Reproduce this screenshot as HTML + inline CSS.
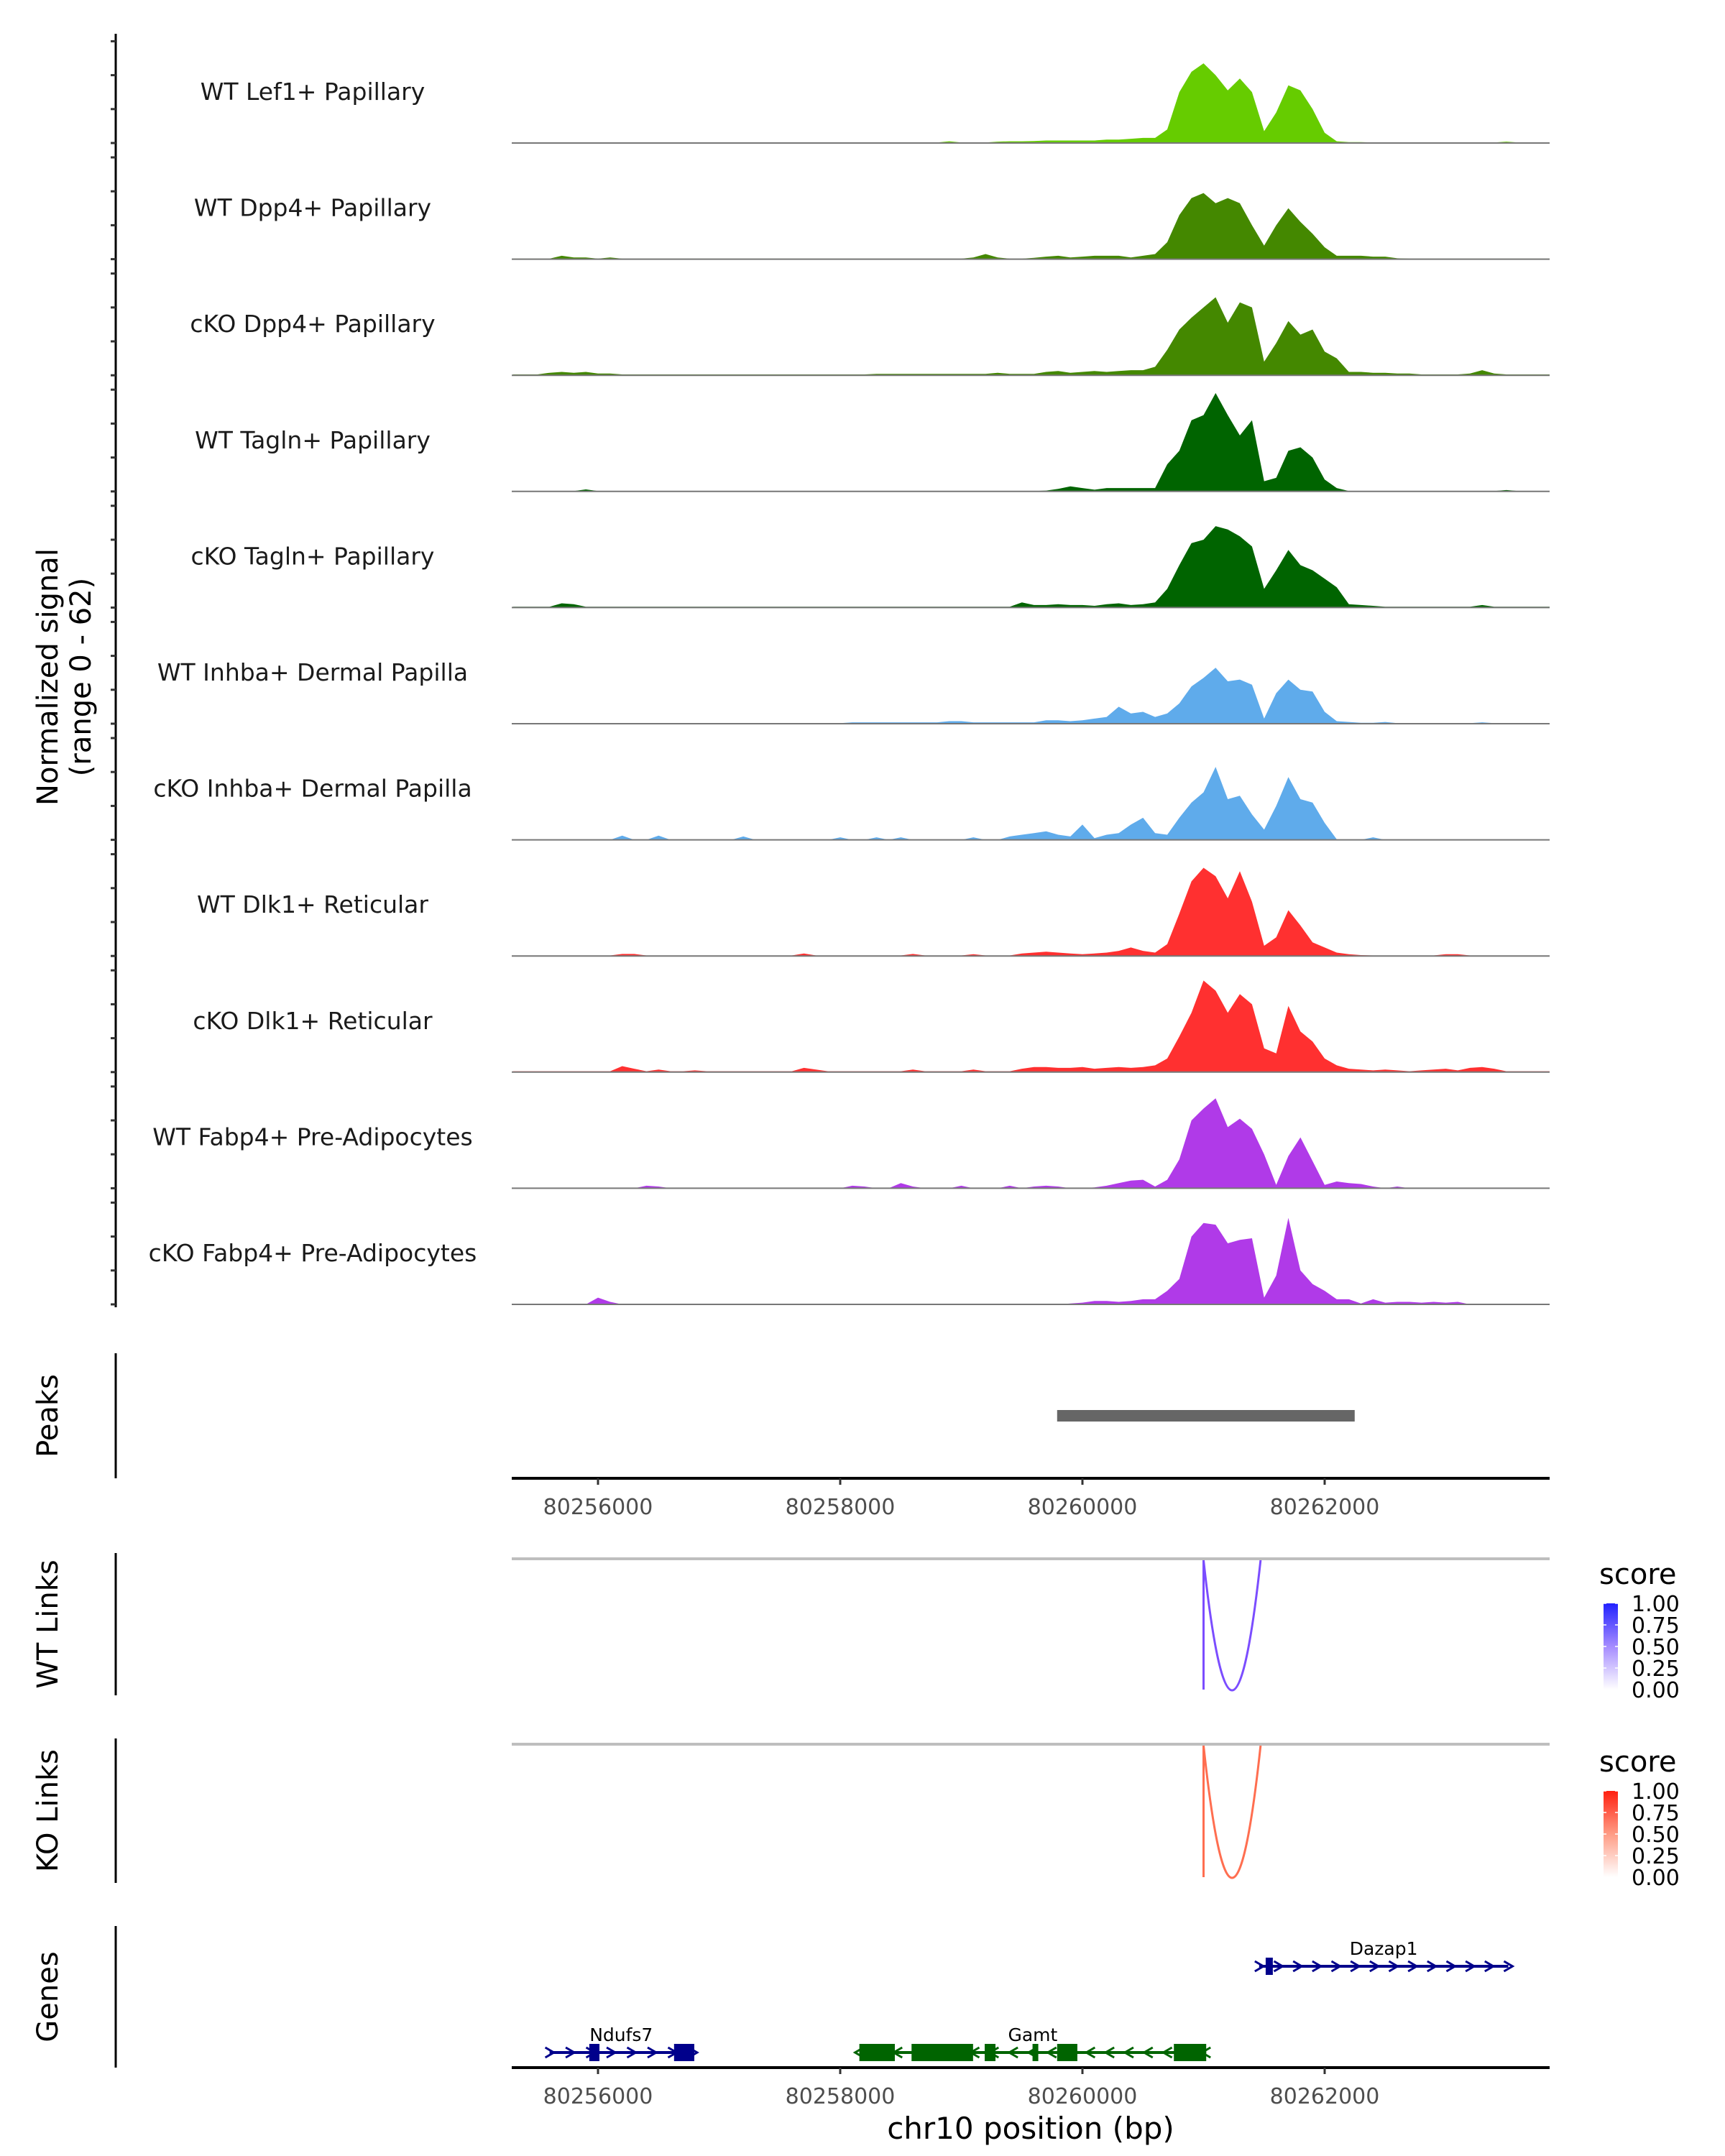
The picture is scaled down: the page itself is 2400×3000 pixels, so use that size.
<!DOCTYPE html>
<html><head><meta charset="utf-8"><style>
html,body{margin:0;padding:0;background:#fff;}
svg{display:block;font-family:"DejaVu Sans","Liberation Sans",sans-serif;}
</style></head><body>
<svg id="chart" width="2400" height="3000" viewBox="0 0 2400 3000" xmlns="http://www.w3.org/2000/svg">
<rect width="2400" height="3000" fill="#fff"/>
<g id="tracks"></g>
<text transform="translate(80,942) rotate(-90)" text-anchor="middle" font-size="40" fill="#000">Normalized signal</text>
<text transform="translate(126,942) rotate(-90)" text-anchor="middle" font-size="40" fill="#000">(range 0 - 62)</text>
<g id="lower"></g>
</svg>
<script>
const bins = [80255300,80255400,80255500,80255600,80255700,80255800,80255900,80256000,80256100,80256200,80256300,80256400,80256500,80256600,80256700,80256800,80256900,80257000,80257100,80257200,80257300,80257400,80257500,80257600,80257700,80257800,80257900,80258000,80258100,80258200,80258300,80258400,80258500,80258600,80258700,80258800,80258900,80259000,80259100,80259200,80259300,80259400,80259500,80259600,80259700,80259800,80259900,80260000,80260100,80260200,80260300,80260400,80260500,80260600,80260700,80260800,80260900,80261000,80261100,80261200,80261300,80261400,80261500,80261600,80261700,80261800,80261900,80262000,80262100,80262200,80262300,80262400,80262500,80262600,80262700,80262800,80262900,80263000,80263100,80263200,80263300,80263400,80263500,80263600,80263700,80263800,80263900];
const trackNames = ["WT Lef1+ Papillary","WT Dpp4+ Papillary","cKO Dpp4+ Papillary","WT Tagln+ Papillary","cKO Tagln+ Papillary","WT Inhba+ Dermal Papilla","cKO Inhba+ Dermal Papilla","WT Dlk1+ Reticular","cKO Dlk1+ Reticular","WT Fabp4+ Pre-Adipocytes","cKO Fabp4+ Pre-Adipocytes"];
const trackColors = ["#66cc00","#448800","#448800","#006400","#006400","#5fabeb","#5fabeb","#ff3030","#ff3030","#b03ae8","#b03ae8"];
const wtLef1 = [0.3,0.3,0.3,0.3,0.3,0.3,0.3,0.3,0.3,0.3, 0.3,0.3,0.3,0.3,0.3,0.3,0.3,0.3,0.3,0.3, 0.3,0.3,0.3,0.3,0.3,0.3,0.3,0.3,0.3,0.3, 0.3,0.3,0.3,0.3,0.3,0.3,1,0.3,0.3,0.3, 0.8,1,1,1.2,1.5,1.5,1.5, 1.5,1.5,2,2,2.5,3,3,8,30,42, 47,40,31,38,30,7,18,34,31,20, 6,1,0.5,0.5,0.3,0.3,0.3,0.3,0.3,0.3, 0.3,0.3,0.3,0.3,0.3,0.8,0.3,0.3,0.3,0.3];
const wtDpp4 = [0.3,0.3,0.3,0.3,2,1,1,0.3,1,0.3, 0.3,0.3,0.3,0.3,0.3,0.3,0.3,0.3,0.3,0.3, 0.3,0.3,0.3,0.3,0.3,0.3,0.3,0.3,0.3,0.3, 0.3,0.3,0.3,0.3,0.3,0.3,0.3,0.3,1,3, 1,0.3,0.3,0.8,1.5,2,1, 1.5,2,2,2,1,2,3,10,26,36, 39,33,36,33,20,8,20,30,22,15, 7,2,2,2,1.5,1.5,0.5,0.3,0.3,0.3, 0.3,0.3,0.3,0.3,0.3,0.3,0.3,0.3,0.3,0.3];
const koDpp4 = [0.5,0.5,0.5,1.5,2,1.5,2,1,1,0.5, 0.5,0.5,0.5,0.5,0.5,0.5,0.5,0.5,0.5,0.5, 0.5,0.5,0.5,0.5,0.5,0.5,0.5,0.5,0.5,0.5, 0.8,0.8,0.8,0.8,0.8,0.8,0.8,0.8,0.8,0.8, 1.5,0.8,0.8,0.8,2,2.5,1.5, 2,2.5,2,2.5,3,3,5,15,27,34, 40,46,31,43,40,8,19,32,24,27, 14,10,2,2,1.5,1.5,1,1,0.5,0.5, 0.5,0.5,1,3,1,0.5,0.5,0.5,0.5,0.5];
const wtTagln = [0.2,0.2,0.2,0.2,0.2,0.2,1.2,0.2,0.2,0.2, 0.2,0.2,0.2,0.2,0.2,0.2,0.2,0.2,0.2,0.2, 0.2,0.2,0.2,0.2,0.2,0.2,0.2,0.2,0.2,0.2, 0.2,0.2,0.2,0.2,0.2,0.2,0.2,0.2,0.2,0.2, 0.2,0.2,0.2,0.2,0.5,1.5,3, 2,1,2,2,2,2,2,16,24,42, 45,58,45,33,42,6,8,24,26,20, 7,2,0.2,0.2,0.2,0.2,0.2,0.2,0.2,0.2, 0.2,0.2,0.2,0.2,0.2,0.8,0.2,0.2,0.2,0.2];
const koTagln = [0.5,0.5,0.5,0.5,2.5,2,0.5,0.5,0.5,0.5, 0.5,0.5,0.5,0.5,0.5,0.5,0.5,0.5,0.5,0.5, 0.5,0.5,0.5,0.5,0.5,0.5,0.5,0.5,0.5,0.5, 0.5,0.5,0.5,0.5,0.5,0.5,0.5,0.5,0.5,0.5, 0.5,0.5,3,1.5,1.5,2,1.5, 1.5,1,2,2.5,1.5,2,3,11,25,38, 40,48,46,42,36,11,22,34,25,22, 17,12,2,1.5,1,0.5,0.5,0.5,0.5,0.5, 0.5,0.5,0.5,1.5,0.5,0.5,0.5,0.5,0.5,0.5];
const wtInhba = [0.3,0.3,0.3,0.3,0.3,0.3,0.3,0.3,0.3,0.3, 0.3,0.3,0.3,0.3,0.3,0.3,0.3,0.3,0.3,0.3, 0.3,0.3,0.3,0.3,0.3,0.3,0.3,0.3,0.8,0.8, 0.8,0.8,0.8,0.8,0.8,0.8,1.5,1.5,0.8,0.8, 0.8,0.8,0.8,0.8,2,2,1.5, 2,3,4,10,6,7,4,6,12,22, 27,33,25,26,23,3,18,26,20,19, 7,1.5,1,0.5,0.5,1,0.3,0.3,0.3,0.3, 0.3,0.3,0.3,0.8,0.3,0.3,0.3,0.3,0.3,0.3];
const koInhba = [0,0,0,0,0,0,0,0,0,2.5, 0,0,2.5,0,0,0,0,0,0,2, 0,0,0,0,0,0,0,1.5,0,0, 1.5,0,1.5,0,0,0,0,0,1.5,0, 0,2,3,4,5,3,2, 9,1,3,4,9,13,4,3,13,22, 28,43,24,26,15,6,20,37,24,22, 10,0.3,0,0,1.5,0,0,0,0,0, 0,0,0,0,0,0,0,0,0,0];
const wtDlk1 = [0.3,0.3,0.3,0.3,0.3,0.3,0.3,0.3,0.3,1.2, 1.2,0.3,0.3,0.3,0.3,0.3,0.3,0.3,0.3,0.3, 0.3,0.3,0.3,0.3,1.5,0.3,0.3,0.3,0.3,0.3, 0.3,0.3,0.3,1.2,0.3,0.3,0.3,0.3,1,0.3, 0.3,0.3,1.5,2,2.5,2,1.5, 1,1.5,2,3,5,3,2,7,25,44, 52,47,34,50,32,6,11,27,18,8, 5,2,1,0.5,0.3,0.3,0.3,0.3,0.3,0.3, 1,1,0.3,0.3,0.3,0.3,0.3,0.3,0.3,0.3];
const koDlk1 = [0.5,0.5,0.5,0.5,0.5,0.5,0.5,0.5,0.5,3.5, 2,0.5,1.5,0.5,0.5,1,0.5,0.5,0.5,0.5, 0.5,0.5,0.5,0.5,2.5,1.5,0.5,0.5,0.5,0.5, 0.5,0.5,0.5,1.5,0.5,0.5,0.5,0.5,1.5,0.5, 0.5,0.5,2,3,3,2.5,2.5, 3,2,2.5,3,2.5,3,4,8,21,35, 54,48,35,46,40,14,11,39,24,18, 8,4,2,1.5,1,1.5,1,0.5,1,1.5, 2,1,2.5,3,2,0.5,0.5,0.5,0.5,0.5];
const wtFabp4 = [0,0,0,0,0,0,0,0,0,0, 0,1.5,1,0,0,0,0,0,0,0, 0,0,0,0,0,0,0,0,1.5,1, 0,0,3,1,0,0,0,1.5,0,0, 0,1.5,0,1,1.5,1,0, 0,0.5,1.5,3,4.5,5,1,5,17,40, 47,53,36,41,35,20,2,19,30,16, 2,4,3,2.5,1,0,1,0,0,0, 0,0,0,0,0,0,0,0,0,0];
const koFabp4 = [0,0,0,0,0,0,0,4,1.5,0, 0,0,0,0,0,0,0,0,0,0, 0,0,0,0,0,0,0,0,0,0, 0,0,0,0,0,0,0,0,0,0, 0,0,0,0,0,0,0.5, 1,2,2,1.5,2,3,3,8,15,40, 48,47,36,38,39,4,17,51,20,12, 8,3,3,0.5,3,1,1.5,1.5,1,1.5, 1,1.5,0,0,0,0,0,0,0,0];
const trackValues = [wtLef1,wtDpp4,koDpp4,wtTagln,koTagln,wtInhba,koInhba,wtDlk1,koDlk1,wtFabp4,koFabp4];
const xTicks = [80256000,80258000,80260000,80262000];
const peakStarts = [80259791];
const peakEnds = [80262248];
const linkStarts = [80261000];
const linkEnds = [80261471];
const geneNames = ["Dazap1","Ndufs7","Gamt"];
const geneStarts = [80261459,80255600,80258158];
const geneEnds = [80263516,80256783,80261022];
const geneStrands = ["+","+","-"];
const geneRows = [0,1,1];
const exonGene = [0,1,1,2,2,2,2,2,2];
const exonStarts = [80261513,80255928,80256628,80258158,80258589,80259193,80259588,80259791,80260755];
const exonEnds = [80261572,80256012,80256795,80258451,80259097,80259282,80259630,80259958,80261022];
const legendTicks = ["1.00","0.75","0.50","0.25","0.00"];

const NS="http://www.w3.org/2000/svg";
const X0=712, X1=2156;
function x(bp){return 832+(bp-80256000)/2000*337;}
const unitPx=2.36, base0=199, trackStep=161.6;
function y(v,k){return base0+k*trackStep - v*unitPx;}
function mk(tag,attrs,parent){const e=document.createElementNS(NS,tag);for(const k in attrs)e.setAttribute(k,attrs[k]);parent.appendChild(e);return e;}
const tracks=document.getElementById('tracks');
const lower=document.getElementById('lower');

let ax=mk('line',{x1:161,y1:47,x2:161,y2:1819,stroke:'#000','stroke-width':3},tracks);


trackNames.forEach((name,k)=>{
  const b=base0+k*trackStep;
  const g=mk('g',{},tracks);
  
  
  [0,20,40,60].forEach(t=>{mk('line',{x1:154,x2:161,y1:y(t,k),y2:y(t,k),stroke:'#333','stroke-width':3},g);});
  const vals=trackValues[k];
  let d='M'+X0+','+b+' L'+x(bins[0]).toFixed(1)+','+y(vals[0],k).toFixed(1);
  for(let i=1;i<bins.length;i++){const xx=Math.min(X1,x(bins[i]));d+=' L'+xx.toFixed(1)+','+y(vals[i],k).toFixed(1);}
  d+=' L'+X1+','+b+' Z';
  const p=mk('path',{d:d,fill:trackColors[k]},g);
  
  
  mk('line',{x1:X0,x2:X1,y1:b,y2:b,stroke:'#777','stroke-width':2},g);
  const t=mk('text',{x:435,y:b-60,'text-anchor':'middle','font-size':33,fill:'#1a1a1a'},g);
  t.textContent=name;
  
  
});

function panelAxis(y1,y2,title,name){
  const l=mk('line',{x1:161,x2:161,y1:y1,y2:y2,stroke:'#000','stroke-width':3},lower);
  
  
  const t=mk('text',{transform:'translate(80,'+((y1+y2)/2)+') rotate(-90)','text-anchor':'middle','font-size':40,fill:'#000'},lower);
  t.textContent=title;
  
  
}
function xAxis(yy,name){
  const l=mk('line',{x1:X0,x2:X1,y1:yy,y2:yy,stroke:'#000','stroke-width':4},lower);
  
  
  xTicks.forEach(v=>{
    mk('line',{x1:x(v),x2:x(v),y1:yy,y2:yy+9,stroke:'#333','stroke-width':3},lower);
    const t=mk('text',{x:x(v),y:yy+50,'text-anchor':'middle','font-size':30,fill:'#4d4d4d'},lower);
    t.textContent=v;
    
    
  });
}
panelAxis(1883,2057,'Peaks','peaks');
peakStarts.forEach((s,i)=>{
  const r=mk('rect',{x:x(s),y:1962,width:x(peakEnds[i])-x(s),height:16,fill:'#666'},lower);
  
  
});
xAxis(2057,'peaks-x-axis');

function linkPanel(top,bottom,color,title,name,gradId,c1,c2,legTop){
  panelAxis(top-8,bottom+8,title,name);
  mk('line',{x1:X0,x2:X1,y1:top,y2:top,stroke:'#bebebe','stroke-width':4},lower);
  linkStarts.forEach((s,i)=>{
    const a=x(s),b=x(linkEnds[i]);
    const c=2*bottom-top;
    const p=mk('path',{d:'M'+a+','+(top+2)+' L'+a+','+bottom+' M'+a+','+(top+2)+' Q'+((a+b)/2)+','+c+' '+b+','+(top+2),fill:'none',stroke:color,'stroke-width':3},lower);
    
    
  });
  const defs=mk('defs',{},lower);
  const lg=mk('linearGradient',{id:gradId,x1:0,y1:1,x2:0,y2:0},defs);
  mk('stop',{offset:0,'stop-color':'#ffffff'},lg);
  mk('stop',{offset:0.5,'stop-color':c1},lg);
  mk('stop',{offset:1,'stop-color':c2},lg);
  const lt=legTop, lb=legTop+120;
  const st=mk('text',{x:2225,y:lt-27,'font-size':40,fill:'#000'},lower);
  st.textContent='score';
  
  
  const bar=mk('rect',{x:2231,y:lt,width:20,height:lb-lt,fill:'url(#'+gradId+')'},lower);
  
  
  legendTicks.forEach((lab,i)=>{
    const yy=lt+i*(lb-lt)/4;
    mk('line',{x1:2231,x2:2235,y1:yy,y2:yy,stroke:'#fff','stroke-width':1.5},lower);
    mk('line',{x1:2247,x2:2251,y1:yy,y2:yy,stroke:'#fff','stroke-width':1.5},lower);
    const t=mk('text',{x:2270,y:yy+11,'font-size':30,fill:'#000'},lower);
    t.textContent=lab;
    
    
  });
}
linkPanel(2169,2351,'#7b4dff','WT Links','wt-links','gradWT','#a58cff','#2222ff',2231);
linkPanel(2427,2612,'#ff6e50','KO Links','ko-links','gradKO','#ff9c85','#ff2010',2492);

panelAxis(2680,2877,'Genes','genes');
const rowY=[2736,2856];
geneNames.forEach((gname,i)=>{
  const yy=rowY[geneRows[i]];
  const col=geneStrands[i]==='+'?'#00008b':'#006400';
  const g=mk('g',{},lower);
  
  
  mk('line',{x1:x(geneStarts[i]),x2:x(geneEnds[i]),y1:yy,y2:yy,stroke:col,'stroke-width':4},g);
  const len=x(geneEnds[i])-x(geneStarts[i]);
  const n=Math.floor(len/26);
  for(let j=0;j<=n;j++){
    const cx=x(geneStarts[i])+j*len/n;
    const dx=geneStrands[i]==='+'?6:-6;
    mk('path',{d:'M'+(cx-dx)+','+(yy-7)+' L'+(cx+dx)+','+yy+' L'+(cx-dx)+','+(yy+7),fill:'none',stroke:col,'stroke-width':3},g);
  }
  exonGene.forEach((gi,e)=>{
    if(gi!==i)return;
    mk('rect',{x:x(exonStarts[e]),y:yy-12,width:Math.max(8,x(exonEnds[e])-x(exonStarts[e])),height:24,fill:col},g);
  });
  const t=mk('text',{x:(x(geneStarts[i])+x(geneEnds[i]))/2,y:yy-16,'text-anchor':'middle','font-size':25,fill:'#000'},g);
  t.textContent=gname;
  
  
});
xAxis(2877,'genes-x-axis');
const xt=mk('text',{x:1434,y:2976,'text-anchor':'middle','font-size':42,fill:'#000'},lower);
xt.textContent='chr10 position (bp)';


</script>
</body></html>
